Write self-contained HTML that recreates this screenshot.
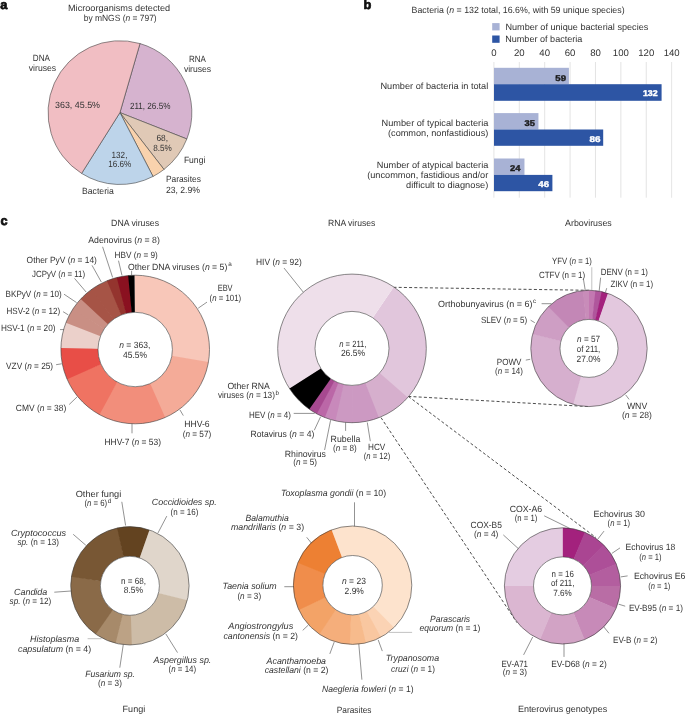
<!DOCTYPE html>
<html><head><meta charset="utf-8"><style>
html,body{margin:0;padding:0;background:#fff;width:685px;height:715px;overflow:hidden}
svg{display:block;will-change:transform}
</style></head><body>
<svg width="685" height="715" viewBox="0 0 685 715">
<rect width="685" height="715" fill="#fff"/>
<g font-family="'Liberation Sans', sans-serif" text-rendering="geometricPrecision" font-size="9" fill="#333333">
<text x="0.20" y="9.10" stroke="#111" stroke-width="0.70" font-size="12.80" font-weight="bold" fill="#111">a</text>
<text x="68.00" y="11.20" textLength="102.20" lengthAdjust="spacingAndGlyphs">Microorganisms detected</text>
<text x="83.70" y="20.60" textLength="73.00" lengthAdjust="spacingAndGlyphs">by mNGS (<tspan font-style="italic">n</tspan> = 797)</text>
<path d="M119.950,112.600 L140.009,43.555 A71.900,71.900 0 0 1 186.844,138.960 Z" fill="#d6b3cf" stroke="#444" stroke-width="0.60" stroke-linejoin="round"/>
<path d="M119.950,112.600 L186.844,138.960 A71.900,71.900 0 0 1 163.996,169.430 Z" fill="#e0c9b6" stroke="#444" stroke-width="0.60" stroke-linejoin="round"/>
<path d="M119.950,112.600 L163.996,169.430 A71.900,71.900 0 0 1 153.026,176.441 Z" fill="#f9d2ad" stroke="#444" stroke-width="0.60" stroke-linejoin="round"/>
<path d="M119.950,112.600 L153.026,176.441 A71.900,71.900 0 0 1 81.599,173.418 Z" fill="#bdd4ea" stroke="#444" stroke-width="0.60" stroke-linejoin="round"/>
<path d="M119.950,112.600 L81.599,173.418 A71.900,71.900 0 0 1 140.009,43.555 Z" fill="#f1bec3" stroke="#444" stroke-width="0.60" stroke-linejoin="round"/>
<text x="32.80" y="61.40" textLength="17.10" lengthAdjust="spacingAndGlyphs">DNA</text>
<text x="28.80" y="71.00" textLength="27.40" lengthAdjust="spacingAndGlyphs">viruses</text>
<text x="188.90" y="61.80" textLength="16.90" lengthAdjust="spacingAndGlyphs">RNA</text>
<text x="183.90" y="71.70" textLength="27.30" lengthAdjust="spacingAndGlyphs">viruses</text>
<text x="55.00" y="108.10" textLength="45.00" lengthAdjust="spacingAndGlyphs">363, 45.5%</text>
<text x="129.90" y="108.80" textLength="40.50" lengthAdjust="spacingAndGlyphs">211, 26.5%</text>
<text x="156.40" y="140.90" textLength="11.60" lengthAdjust="spacingAndGlyphs">68,</text>
<text x="153.20" y="150.50" textLength="18.60" lengthAdjust="spacingAndGlyphs">8.5%</text>
<text x="111.60" y="157.50" textLength="15.80" lengthAdjust="spacingAndGlyphs">132,</text>
<text x="108.30" y="166.90" textLength="23.00" lengthAdjust="spacingAndGlyphs">16.6%</text>
<text x="183.90" y="162.50" textLength="21.40" lengthAdjust="spacingAndGlyphs">Fungi</text>
<text x="165.90" y="181.80" textLength="35.00" lengthAdjust="spacingAndGlyphs">Parasites</text>
<text x="165.90" y="192.60" textLength="34.10" lengthAdjust="spacingAndGlyphs">23, 2.9%</text>
<text x="82.00" y="193.60" textLength="31.80" lengthAdjust="spacingAndGlyphs">Bacteria</text>
<text x="363.60" y="9.00" stroke="#111" stroke-width="0.70" font-size="12.80" font-weight="bold" fill="#111">b</text>
<text x="411.60" y="13.20" textLength="213.00" lengthAdjust="spacingAndGlyphs">Bacteria (<tspan font-style="italic">n</tspan> = 132 total, 16.6%, with 59 unique species)</text>
<rect x="492.2" y="23.1" width="7.4" height="7.3" fill="#a8b2d5"/>
<rect x="492.2" y="35.5" width="7.4" height="7.3" fill="#2d55a4"/>
<text x="505.40" y="29.60" textLength="142.90" lengthAdjust="spacingAndGlyphs">Number of unique bacterial species</text>
<text x="505.20" y="41.70" textLength="77.20" lengthAdjust="spacingAndGlyphs">Number of bacteria</text>
<text x="493.90" y="55.6" font-size="9.6" text-anchor="middle">0</text>
<line x1="493.90" y1="62.00" x2="493.90" y2="197.70" stroke="#d9d9d9" stroke-width="0.70"/>
<text x="519.29" y="55.6" font-size="9.6" text-anchor="middle">20</text>
<line x1="519.29" y1="62.00" x2="519.29" y2="197.70" stroke="#d9d9d9" stroke-width="0.70"/>
<text x="544.68" y="55.6" font-size="9.6" text-anchor="middle">40</text>
<line x1="544.68" y1="62.00" x2="544.68" y2="197.70" stroke="#d9d9d9" stroke-width="0.70"/>
<text x="570.08" y="55.6" font-size="9.6" text-anchor="middle">60</text>
<line x1="570.08" y1="62.00" x2="570.08" y2="197.70" stroke="#d9d9d9" stroke-width="0.70"/>
<text x="595.47" y="55.6" font-size="9.6" text-anchor="middle">80</text>
<line x1="595.47" y1="62.00" x2="595.47" y2="197.70" stroke="#d9d9d9" stroke-width="0.70"/>
<text x="620.86" y="55.6" font-size="9.6" text-anchor="middle">100</text>
<line x1="620.86" y1="62.00" x2="620.86" y2="197.70" stroke="#d9d9d9" stroke-width="0.70"/>
<text x="646.25" y="55.6" font-size="9.6" text-anchor="middle">120</text>
<line x1="646.25" y1="62.00" x2="646.25" y2="197.70" stroke="#d9d9d9" stroke-width="0.70"/>
<text x="671.64" y="55.6" font-size="9.6" text-anchor="middle">140</text>
<line x1="671.64" y1="62.00" x2="671.64" y2="197.70" stroke="#d9d9d9" stroke-width="0.70"/>
<rect x="494.0" y="67.80" width="74.91" height="16.40" fill="#a8b2d5"/>
<rect x="494.0" y="84.20" width="167.59" height="16.60" fill="#2d55a4"/>
<rect x="494.0" y="113.10" width="44.44" height="16.40" fill="#a8b2d5"/>
<rect x="494.0" y="129.50" width="109.19" height="16.30" fill="#2d55a4"/>
<rect x="494.0" y="158.50" width="30.47" height="16.40" fill="#a8b2d5"/>
<rect x="494.0" y="174.90" width="58.40" height="16.30" fill="#2d55a4"/>
<text x="555.30" y="80.50" stroke="#1a1a1a" stroke-width="0.40" font-size="8.40" font-weight="bold" fill="#1a1a1a" textLength="10.70" lengthAdjust="spacingAndGlyphs">59</text>
<text x="642.90" y="96.00" stroke="#fff" stroke-width="0.40" font-size="8.40" font-weight="bold" fill="#fff" textLength="14.70" lengthAdjust="spacingAndGlyphs">132</text>
<text x="524.60" y="125.80" stroke="#1a1a1a" stroke-width="0.40" font-size="8.40" font-weight="bold" fill="#1a1a1a" textLength="10.40" lengthAdjust="spacingAndGlyphs">35</text>
<text x="589.40" y="142.10" stroke="#fff" stroke-width="0.40" font-size="8.40" font-weight="bold" fill="#fff" textLength="11.00" lengthAdjust="spacingAndGlyphs">86</text>
<text x="510.00" y="171.00" stroke="#1a1a1a" stroke-width="0.40" font-size="8.40" font-weight="bold" fill="#1a1a1a" textLength="10.40" lengthAdjust="spacingAndGlyphs">24</text>
<text x="538.30" y="187.10" stroke="#fff" stroke-width="0.40" font-size="8.40" font-weight="bold" fill="#fff" textLength="10.70" lengthAdjust="spacingAndGlyphs">46</text>
<text x="380.40" y="88.80" textLength="107.90" lengthAdjust="spacingAndGlyphs">Number of bacteria in total</text>
<text x="381.50" y="125.60" textLength="106.80" lengthAdjust="spacingAndGlyphs">Number of typical bacteria</text>
<text x="388.00" y="135.80" textLength="100.30" lengthAdjust="spacingAndGlyphs">(common, nonfastidious)</text>
<text x="376.80" y="168.10" textLength="111.50" lengthAdjust="spacingAndGlyphs">Number of atypical bacteria</text>
<text x="367.20" y="177.90" textLength="121.10" lengthAdjust="spacingAndGlyphs">(uncommon, fastidious and/or</text>
<text x="406.00" y="188.10" textLength="82.30" lengthAdjust="spacingAndGlyphs">difficult to diagnose)</text>
<text x="0.60" y="225.00" stroke="#111" stroke-width="0.70" font-size="12.80" font-weight="bold" fill="#111">c</text>
<text x="111.10" y="225.70" textLength="47.90" lengthAdjust="spacingAndGlyphs">DNA viruses</text>
<text x="328.00" y="225.80" textLength="47.30" lengthAdjust="spacingAndGlyphs">RNA viruses</text>
<text x="565.10" y="225.80" textLength="46.70" lengthAdjust="spacingAndGlyphs">Arboviruses</text>
<text x="122.60" y="712.30" textLength="22.60" lengthAdjust="spacingAndGlyphs">Fungi</text>
<text x="336.80" y="712.50" textLength="34.70" lengthAdjust="spacingAndGlyphs">Parasites</text>
<text x="517.90" y="712.40" textLength="89.40" lengthAdjust="spacingAndGlyphs">Enterovirus genotypes</text>
<line x1="393.50" y1="287.30" x2="589.00" y2="290.30" stroke="#1e1e1e" stroke-width="0.80" stroke-dasharray="3 2.2"/>
<line x1="408.30" y1="396.40" x2="589.00" y2="406.60" stroke="#1e1e1e" stroke-width="0.80" stroke-dasharray="3 2.2"/>
<line x1="408.30" y1="396.40" x2="596.00" y2="537.60" stroke="#1e1e1e" stroke-width="0.80" stroke-dasharray="3 2.2"/>
<line x1="381.00" y1="417.60" x2="517.00" y2="622.70" stroke="#1e1e1e" stroke-width="0.80" stroke-dasharray="3 2.2"/>
<path d="M134.552,275.203 A74.300,74.300 0 0 1 208.287,362.868 L171.793,356.193 A37.200,37.200 0 0 0 134.875,312.301 Z" fill="#f8c7b9"/>
<path d="M208.445,361.974 A74.300,74.300 0 0 1 164.358,417.840 L149.798,383.716 A37.200,37.200 0 0 0 171.872,355.746 Z" fill="#f4ab98"/>
<path d="M165.190,417.478 A74.300,74.300 0 0 1 98.662,414.195 L116.907,381.891 A37.200,37.200 0 0 0 150.215,383.535 Z" fill="#f28e7b"/>
<path d="M99.455,414.637 A74.300,74.300 0 0 1 66.735,378.362 L100.921,363.950 A37.200,37.200 0 0 0 117.304,382.112 Z" fill="#ef7362"/>
<path d="M67.092,379.196 A74.300,74.300 0 0 1 60.942,346.991 L98.021,348.244 A37.200,37.200 0 0 0 101.100,364.368 Z" fill="#e84e47"/>
<path d="M60.917,347.898 A74.300,74.300 0 0 1 66.199,321.943 L100.653,335.703 A37.200,37.200 0 0 0 98.009,348.698 Z" fill="#ebd0ca"/>
<path d="M65.868,322.788 A74.300,74.300 0 0 1 73.365,308.306 L104.241,328.875 A37.200,37.200 0 0 0 100.487,336.126 Z" fill="#c98f84"/>
<path d="M72.866,309.065 A74.300,74.300 0 0 1 81.384,298.272 L108.256,323.852 A37.200,37.200 0 0 0 103.991,329.255 Z" fill="#c98f84"/>
<path d="M80.762,298.933 A74.300,74.300 0 0 1 92.051,289.013 L113.597,319.216 A37.200,37.200 0 0 0 107.944,324.183 Z" fill="#a65446"/>
<path d="M91.315,289.545 A74.300,74.300 0 0 1 107.826,280.426 L121.495,314.917 A37.200,37.200 0 0 0 113.228,319.482 Z" fill="#a65446"/>
<path d="M106.985,280.766 A74.300,74.300 0 0 1 117.623,277.309 L126.400,313.356 A37.200,37.200 0 0 0 121.073,315.087 Z" fill="#94342e"/>
<path d="M116.742,277.529 A74.300,74.300 0 0 1 129.036,275.456 L132.114,312.428 A37.200,37.200 0 0 0 125.959,313.466 Z" fill="#8a1120"/>
<path d="M128.132,275.537 A74.300,74.300 0 0 1 134.552,275.203 L134.875,312.301 A37.200,37.200 0 0 0 131.661,312.469 Z" fill="#000000"/>
<circle cx="135.20" cy="349.50" r="74.30" fill="none" stroke="#3a3a3a" stroke-width="0.6"/>
<circle cx="135.20" cy="349.50" r="37.20" fill="#fff" stroke="#3a3a3a" stroke-width="0.6"/>
<path d="M393.763,286.948 A74.300,74.300 0 0 1 407.084,398.262 L379.431,373.230 A37.000,37.000 0 0 0 372.797,317.798 Z" fill="#e1c6dc"/>
<path d="M407.689,397.585 A74.300,74.300 0 0 1 378.081,417.972 L364.988,383.045 A37.000,37.000 0 0 0 379.732,372.893 Z" fill="#d6afcd"/>
<path d="M378.929,417.648 A74.300,74.300 0 0 1 352.099,422.700 L352.049,385.400 A37.000,37.000 0 0 0 365.410,382.884 Z" fill="#cc99c2"/>
<path d="M353.007,422.693 A74.300,74.300 0 0 1 334.563,420.625 L343.317,384.367 A37.000,37.000 0 0 0 352.501,385.397 Z" fill="#cc99c2"/>
<path d="M335.447,420.833 A74.300,74.300 0 0 1 324.042,417.239 L338.077,382.681 A37.000,37.000 0 0 0 343.757,384.470 Z" fill="#c889bb"/>
<path d="M324.885,417.576 A74.300,74.300 0 0 1 316.060,413.429 L334.102,380.783 A37.000,37.000 0 0 0 338.497,382.848 Z" fill="#bb67a7"/>
<path d="M316.857,413.863 A74.300,74.300 0 0 1 308.587,408.698 L330.381,378.427 A37.000,37.000 0 0 0 334.499,381.000 Z" fill="#a74990"/>
<path d="M309.327,409.223 A74.300,74.300 0 0 1 289.036,387.846 L320.645,368.044 A37.000,37.000 0 0 0 330.750,378.689 Z" fill="#000000"/>
<path d="M289.523,388.613 A74.300,74.300 0 0 1 393.763,286.948 L372.797,317.798 A37.000,37.000 0 0 0 320.887,368.425 Z" fill="#eedfea"/>
<circle cx="352.00" cy="348.40" r="74.30" fill="none" stroke="#3a3a3a" stroke-width="0.6"/>
<circle cx="352.00" cy="348.40" r="37.00" fill="#fff" stroke="#3a3a3a" stroke-width="0.6"/>
<path d="M589.000,290.200 A58.200,58.200 0 0 1 596.109,290.636 L592.542,319.617 A29.000,29.000 0 0 0 589.000,319.400 Z" fill="#c378b1"/>
<path d="M595.402,290.553 A58.200,58.200 0 0 1 602.420,291.768 L595.687,320.181 A29.000,29.000 0 0 0 592.190,319.576 Z" fill="#b0569c"/>
<path d="M601.727,291.609 A58.200,58.200 0 0 1 608.569,293.588 L598.751,321.088 A29.000,29.000 0 0 0 595.342,320.102 Z" fill="#a3217d"/>
<path d="M607.898,293.353 A58.200,58.200 0 0 1 572.481,404.206 L580.769,376.207 A29.000,29.000 0 0 0 598.416,320.971 Z" fill="#e3c8de"/>
<path d="M573.164,404.404 A58.200,58.200 0 0 1 532.760,333.425 L560.976,340.938 A29.000,29.000 0 0 0 581.109,376.306 Z" fill="#d6afce"/>
<path d="M532.581,334.113 A58.200,58.200 0 0 1 548.930,306.191 L569.034,327.368 A29.000,29.000 0 0 0 560.887,341.281 Z" fill="#ce9ec4"/>
<path d="M548.417,306.683 A58.200,58.200 0 0 1 583.305,290.479 L586.162,319.539 A29.000,29.000 0 0 0 568.778,327.613 Z" fill="#c387b6"/>
<path d="M582.598,290.553 A58.200,58.200 0 0 1 589.000,290.200 L589.000,319.400 A29.000,29.000 0 0 0 585.810,319.576 Z" fill="#c88cb9"/>
<circle cx="589.00" cy="348.40" r="58.20" fill="none" stroke="#3a3a3a" stroke-width="0.6"/>
<circle cx="589.00" cy="348.40" r="29.00" fill="#fff" stroke="#3a3a3a" stroke-width="0.6"/>
<path d="M149.466,529.927 A59.200,59.200 0 0 1 187.161,600.828 L158.434,593.289 A29.500,29.500 0 0 0 139.650,557.958 Z" fill="#e0d6cb"/>
<path d="M187.340,600.128 A59.200,59.200 0 0 1 131.115,644.988 L130.506,615.294 A29.500,29.500 0 0 0 158.523,592.940 Z" fill="#cdbca7"/>
<path d="M131.838,644.968 A59.200,59.200 0 0 1 114.872,643.061 L122.411,614.334 A29.500,29.500 0 0 0 130.866,615.284 Z" fill="#bca285"/>
<path d="M115.572,643.240 A59.200,59.200 0 0 1 95.202,633.765 L112.609,609.702 A29.500,29.500 0 0 0 122.760,614.423 Z" fill="#a78a6a"/>
<path d="M95.790,634.185 A59.200,59.200 0 0 1 71.497,576.119 L100.797,580.976 A29.500,29.500 0 0 0 112.903,609.911 Z" fill="#8a6a48"/>
<path d="M71.383,576.833 A59.200,59.200 0 0 1 117.830,527.844 L123.885,556.920 A29.500,29.500 0 0 0 100.740,581.332 Z" fill="#785734"/>
<path d="M117.122,527.995 A59.200,59.200 0 0 1 149.466,529.927 L139.650,557.958 A29.500,29.500 0 0 0 123.533,556.995 Z" fill="#634320"/>
<circle cx="129.90" cy="585.80" r="59.20" fill="none" stroke="#3a3a3a" stroke-width="0.6"/>
<circle cx="129.90" cy="585.80" r="29.50" fill="#fff" stroke="#3a3a3a" stroke-width="0.6"/>
<path d="M331.578,529.858 A59.200,59.200 0 0 1 393.409,628.086 L373.074,606.716 A29.700,29.700 0 0 0 342.053,557.436 Z" fill="#fde3cd"/>
<path d="M393.930,627.585 A59.200,59.200 0 0 1 380.325,637.506 L366.509,611.442 A29.700,29.700 0 0 0 373.335,606.464 Z" fill="#fbd3b4"/>
<path d="M380.962,637.164 A59.200,59.200 0 0 1 365.185,643.047 L358.914,614.221 A29.700,29.700 0 0 0 366.829,611.270 Z" fill="#f9c7a0"/>
<path d="M365.891,642.889 A59.200,59.200 0 0 1 349.111,644.297 L350.850,614.848 A29.700,29.700 0 0 0 359.268,614.142 Z" fill="#f7bb8c"/>
<path d="M349.834,644.335 A59.200,59.200 0 0 1 318.913,633.881 L335.700,609.623 A29.700,29.700 0 0 0 351.212,614.868 Z" fill="#f5ae7b"/>
<path d="M319.511,634.289 A59.200,59.200 0 0 1 298.524,609.291 L325.470,597.286 A29.700,29.700 0 0 0 335.999,609.827 Z" fill="#f3a367"/>
<path d="M298.822,609.950 A59.200,59.200 0 0 1 298.083,562.122 L325.250,573.622 A29.700,29.700 0 0 0 325.620,597.617 Z" fill="#f08d4b"/>
<path d="M297.805,562.790 A59.200,59.200 0 0 1 331.578,529.858 L342.053,557.436 A29.700,29.700 0 0 0 325.110,573.957 Z" fill="#ed8033"/>
<circle cx="352.60" cy="585.20" r="59.20" fill="none" stroke="#3a3a3a" stroke-width="0.6"/>
<circle cx="352.60" cy="585.20" r="29.70" fill="#fff" stroke="#3a3a3a" stroke-width="0.6"/>
<path d="M562.500,527.800 A58.100,58.100 0 0 1 585.388,532.498 L573.924,559.245 A29.000,29.000 0 0 0 562.500,556.900 Z" fill="#a3217d"/>
<path d="M584.734,532.223 A58.100,58.100 0 0 1 604.082,545.322 L583.255,565.646 A29.000,29.000 0 0 0 573.598,559.107 Z" fill="#aa4592"/>
<path d="M603.583,544.817 A58.100,58.100 0 0 1 616.445,564.324 L589.426,575.130 A29.000,29.000 0 0 0 583.006,565.394 Z" fill="#ad4f98"/>
<path d="M616.177,563.666 A58.100,58.100 0 0 1 620.596,586.610 L591.498,586.254 A29.000,29.000 0 0 0 589.293,574.802 Z" fill="#b35e9f"/>
<path d="M620.600,585.900 A58.100,58.100 0 0 1 615.902,608.788 L589.155,597.324 A29.000,29.000 0 0 0 591.500,585.900 Z" fill="#b96da5"/>
<path d="M616.177,608.134 A58.100,58.100 0 0 1 584.076,639.845 L573.270,612.826 A29.000,29.000 0 0 0 589.293,596.998 Z" fill="#c78ab8"/>
<path d="M584.734,639.577 A58.100,58.100 0 0 1 539.612,639.302 L551.076,612.555 A29.000,29.000 0 0 0 573.598,612.693 Z" fill="#d2a3c5"/>
<path d="M540.266,639.577 A58.100,58.100 0 0 1 504.404,585.190 L533.502,585.546 A29.000,29.000 0 0 0 551.402,612.693 Z" fill="#dbb6d1"/>
<path d="M504.400,585.900 A58.100,58.100 0 0 1 562.500,527.800 L562.500,556.900 A29.000,29.000 0 0 0 533.500,585.900 Z" fill="#e4cce1"/>
<circle cx="562.50" cy="585.90" r="58.10" fill="none" stroke="#3a3a3a" stroke-width="0.6"/>
<circle cx="562.50" cy="585.90" r="29.00" fill="#fff" stroke="#3a3a3a" stroke-width="0.6"/>
<text x="88.20" y="243.40" textLength="71.70" lengthAdjust="spacingAndGlyphs">Adenovirus (<tspan font-style="italic">n</tspan> = 8)</text>
<text x="114.60" y="257.70" textLength="43.20" lengthAdjust="spacingAndGlyphs">HBV (<tspan font-style="italic">n</tspan> = 9)</text>
<text x="127.90" y="270.00" textLength="99.40" lengthAdjust="spacingAndGlyphs">Other DNA viruses (<tspan font-style="italic">n</tspan> = 5)</text>
<text x="228.30" y="265.90" font-size="6.3">a</text>
<text x="26.60" y="262.70" textLength="70.30" lengthAdjust="spacingAndGlyphs">Other PyV (<tspan font-style="italic">n</tspan> = 14)</text>
<text x="32.00" y="277.20" textLength="53.10" lengthAdjust="spacingAndGlyphs">JCPyV (<tspan font-style="italic">n</tspan> = 11)</text>
<text x="5.60" y="296.50" textLength="56.10" lengthAdjust="spacingAndGlyphs">BKPyV (<tspan font-style="italic">n</tspan> = 10)</text>
<text x="6.50" y="314.30" textLength="53.60" lengthAdjust="spacingAndGlyphs">HSV-2 (<tspan font-style="italic">n</tspan> = 12)</text>
<text x="0.90" y="331.30" textLength="54.60" lengthAdjust="spacingAndGlyphs">HSV-1 (<tspan font-style="italic">n</tspan> = 20)</text>
<text x="6.10" y="368.90" textLength="47.00" lengthAdjust="spacingAndGlyphs">VZV (<tspan font-style="italic">n</tspan> = 25)</text>
<text x="15.80" y="410.90" textLength="50.40" lengthAdjust="spacingAndGlyphs">CMV (<tspan font-style="italic">n</tspan> = 38)</text>
<text x="104.50" y="445.00" textLength="56.50" lengthAdjust="spacingAndGlyphs">HHV-7 (<tspan font-style="italic">n</tspan> = 53)</text>
<text x="184.20" y="427.00" textLength="25.40" lengthAdjust="spacingAndGlyphs">HHV-6</text>
<text x="182.70" y="436.50" textLength="28.50" lengthAdjust="spacingAndGlyphs">(<tspan font-style="italic">n</tspan> = 57)</text>
<text x="217.70" y="290.90" textLength="14.90" lengthAdjust="spacingAndGlyphs">EBV</text>
<text x="209.60" y="300.60" textLength="31.60" lengthAdjust="spacingAndGlyphs">(<tspan font-style="italic">n</tspan> = 101)</text>
<text x="119.20" y="347.80" textLength="31.10" lengthAdjust="spacingAndGlyphs"><tspan font-style="italic">n</tspan> = 363,</text>
<text x="123.00" y="358.10" textLength="24.00" lengthAdjust="spacingAndGlyphs">45.5%</text>
<line x1="102.60" y1="246.80" x2="112.60" y2="277.40" stroke="#4a4a4a" stroke-width="0.60"/>
<line x1="118.50" y1="260.70" x2="122.00" y2="275.50" stroke="#4a4a4a" stroke-width="0.60"/>
<line x1="131.60" y1="270.80" x2="131.60" y2="275.50" stroke="#4a4a4a" stroke-width="0.60"/>
<line x1="92.00" y1="265.30" x2="101.30" y2="282.00" stroke="#4a4a4a" stroke-width="0.60"/>
<line x1="74.50" y1="278.40" x2="86.20" y2="292.10" stroke="#4a4a4a" stroke-width="0.60"/>
<line x1="64.00" y1="294.20" x2="76.60" y2="302.60" stroke="#4a4a4a" stroke-width="0.60"/>
<line x1="63.10" y1="311.70" x2="68.30" y2="314.90" stroke="#4a4a4a" stroke-width="0.60"/>
<line x1="60.00" y1="329.60" x2="64.00" y2="329.60" stroke="#4a4a4a" stroke-width="0.60"/>
<line x1="56.10" y1="364.70" x2="61.70" y2="363.80" stroke="#4a4a4a" stroke-width="0.60"/>
<line x1="69.20" y1="404.50" x2="77.10" y2="396.90" stroke="#4a4a4a" stroke-width="0.60"/>
<line x1="132.00" y1="423.80" x2="132.00" y2="433.30" stroke="#4a4a4a" stroke-width="0.60"/>
<line x1="180.00" y1="410.00" x2="183.30" y2="415.60" stroke="#4a4a4a" stroke-width="0.60"/>
<line x1="207.00" y1="302.10" x2="198.20" y2="308.20" stroke="#4a4a4a" stroke-width="0.60"/>
<text x="256.00" y="265.00" textLength="45.70" lengthAdjust="spacingAndGlyphs">HIV (<tspan font-style="italic">n</tspan> = 92)</text>
<line x1="284.00" y1="268.00" x2="303.30" y2="292.20" stroke="#4a4a4a" stroke-width="0.60"/>
<text x="227.40" y="388.80" textLength="42.30" lengthAdjust="spacingAndGlyphs">Other RNA</text>
<text x="217.90" y="398.30" textLength="57.00" lengthAdjust="spacingAndGlyphs">viruses (<tspan font-style="italic">n</tspan> = 13)</text>
<text x="275.50" y="394.80" font-size="6.3">b</text>
<text x="248.90" y="417.80" textLength="42.00" lengthAdjust="spacingAndGlyphs">HEV (<tspan font-style="italic">n</tspan> = 4)</text>
<line x1="293.70" y1="413.40" x2="314.70" y2="413.40" stroke="#4a4a4a" stroke-width="0.60"/>
<text x="250.50" y="436.80" textLength="63.80" lengthAdjust="spacingAndGlyphs">Rotavirus (<tspan font-style="italic">n</tspan> = 4)</text>
<line x1="314.30" y1="430.20" x2="320.60" y2="416.70" stroke="#4a4a4a" stroke-width="0.60"/>
<text x="284.80" y="456.60" textLength="41.20" lengthAdjust="spacingAndGlyphs">Rhinovirus</text>
<text x="293.30" y="465.30" textLength="23.80" lengthAdjust="spacingAndGlyphs">(<tspan font-style="italic">n</tspan> = 5)</text>
<line x1="324.60" y1="450.00" x2="330.60" y2="420.20" stroke="#4a4a4a" stroke-width="0.60"/>
<text x="330.60" y="441.50" textLength="29.70" lengthAdjust="spacingAndGlyphs">Rubella</text>
<text x="333.00" y="450.60" textLength="23.80" lengthAdjust="spacingAndGlyphs">(<tspan font-style="italic">n</tspan> = 8)</text>
<line x1="345.60" y1="422.50" x2="345.60" y2="430.90" stroke="#4a4a4a" stroke-width="0.60"/>
<text x="368.00" y="449.60" textLength="17.30" lengthAdjust="spacingAndGlyphs">HCV</text>
<text x="363.80" y="459.00" textLength="26.40" lengthAdjust="spacingAndGlyphs">(<tspan font-style="italic">n</tspan> = 12)</text>
<line x1="367.30" y1="422.50" x2="370.30" y2="441.20" stroke="#4a4a4a" stroke-width="0.60"/>
<text x="339.20" y="346.80" textLength="27.30" lengthAdjust="spacingAndGlyphs"><tspan font-style="italic">n</tspan> = 211,</text>
<text x="340.90" y="356.30" textLength="24.10" lengthAdjust="spacingAndGlyphs">26.5%</text>
<text x="552.10" y="263.70" textLength="39.70" lengthAdjust="spacingAndGlyphs">YFV (<tspan font-style="italic">n</tspan> = 1)</text>
<line x1="591.80" y1="267.20" x2="591.80" y2="290.00" stroke="#999" stroke-width="0.60"/>
<text x="538.90" y="278.20" textLength="46.30" lengthAdjust="spacingAndGlyphs">CTFV (n = 1)</text>
<line x1="583.40" y1="278.90" x2="585.20" y2="290.00" stroke="#4a4a4a" stroke-width="0.60"/>
<text x="600.80" y="274.60" textLength="47.20" lengthAdjust="spacingAndGlyphs">DENV (n = 1)</text>
<line x1="600.60" y1="277.70" x2="599.20" y2="290.80" stroke="#4a4a4a" stroke-width="0.60"/>
<text x="610.50" y="287.30" textLength="42.60" lengthAdjust="spacingAndGlyphs">ZIKV (n = 1)</text>
<line x1="606.70" y1="288.20" x2="605.50" y2="292.20" stroke="#4a4a4a" stroke-width="0.60"/>
<text x="438.00" y="306.60" textLength="94.50" lengthAdjust="spacingAndGlyphs">Orthobunyavirus (n = 6)</text>
<text x="532.90" y="303.00" font-size="6.3">c</text>
<line x1="541.60" y1="303.70" x2="551.50" y2="303.70" stroke="#4a4a4a" stroke-width="0.60"/>
<text x="480.90" y="323.30" textLength="46.30" lengthAdjust="spacingAndGlyphs">SLEV (<tspan font-style="italic">n</tspan> = 5)</text>
<line x1="530.60" y1="320.20" x2="534.80" y2="322.70" stroke="#4a4a4a" stroke-width="0.60"/>
<text x="496.80" y="365.00" textLength="24.70" lengthAdjust="spacingAndGlyphs">POWV</text>
<text x="495.10" y="374.30" textLength="27.90" lengthAdjust="spacingAndGlyphs">(<tspan font-style="italic">n</tspan> = 14)</text>
<line x1="525.80" y1="360.10" x2="530.20" y2="359.30" stroke="#4a4a4a" stroke-width="0.60"/>
<text x="626.90" y="409.10" textLength="20.30" lengthAdjust="spacingAndGlyphs">WNV</text>
<text x="622.00" y="417.70" textLength="29.80" lengthAdjust="spacingAndGlyphs">(<tspan font-style="italic">n</tspan> = 28)</text>
<line x1="625.60" y1="394.80" x2="629.10" y2="399.40" stroke="#4a4a4a" stroke-width="0.60"/>
<text x="577.10" y="341.90" textLength="23.00" lengthAdjust="spacingAndGlyphs"><tspan font-style="italic">n</tspan> = 57</text>
<text x="576.80" y="351.70" textLength="23.50" lengthAdjust="spacingAndGlyphs">of 211,</text>
<text x="576.60" y="361.60" textLength="23.90" lengthAdjust="spacingAndGlyphs">27.0%</text>
<text x="75.70" y="496.60" textLength="45.60" lengthAdjust="spacingAndGlyphs">Other fungi</text>
<text x="84.40" y="506.30" textLength="22.80" lengthAdjust="spacingAndGlyphs">(<tspan font-style="italic">n</tspan> = 6)</text>
<text x="107.80" y="502.80" font-size="6.3">d</text>
<line x1="121.80" y1="501.80" x2="125.60" y2="525.50" stroke="#4a4a4a" stroke-width="0.60"/>
<text x="151.80" y="505.20" textLength="64.90" lengthAdjust="spacingAndGlyphs"><tspan font-style="italic">Coccidioides sp.</tspan></text>
<text x="170.60" y="514.70" textLength="27.70" lengthAdjust="spacingAndGlyphs">(n = 16)</text>
<line x1="166.80" y1="516.10" x2="157.90" y2="533.10" stroke="#4a4a4a" stroke-width="0.60"/>
<text x="10.90" y="535.70" textLength="55.30" lengthAdjust="spacingAndGlyphs"><tspan font-style="italic">Cryptococcus</tspan></text>
<text x="17.50" y="545.30" textLength="41.50" lengthAdjust="spacingAndGlyphs"><tspan font-style="italic">sp.</tspan> (n = 13)</text>
<line x1="73.20" y1="534.30" x2="85.80" y2="545.20" stroke="#4a4a4a" stroke-width="0.60"/>
<text x="14.00" y="594.50" textLength="33.30" lengthAdjust="spacingAndGlyphs"><tspan font-style="italic">Candida</tspan></text>
<text x="9.60" y="604.20" textLength="41.60" lengthAdjust="spacingAndGlyphs"><tspan font-style="italic">sp.</tspan> (<tspan font-style="italic">n</tspan> = 12)</text>
<line x1="54.30" y1="592.20" x2="71.00" y2="591.00" stroke="#4a4a4a" stroke-width="0.60"/>
<text x="30.10" y="641.80" textLength="49.10" lengthAdjust="spacingAndGlyphs"><tspan font-style="italic">Histoplasma</tspan></text>
<text x="18.00" y="651.50" textLength="73.10" lengthAdjust="spacingAndGlyphs"><tspan font-style="italic">capsulatum</tspan> (n = 4)</text>
<line x1="87.60" y1="638.70" x2="101.60" y2="638.70" stroke="#999" stroke-width="0.60"/>
<text x="85.20" y="677.10" textLength="49.70" lengthAdjust="spacingAndGlyphs"><tspan font-style="italic">Fusarium sp.</tspan></text>
<text x="98.00" y="686.00" textLength="23.90" lengthAdjust="spacingAndGlyphs">(<tspan font-style="italic">n</tspan> = 3)</text>
<line x1="119.80" y1="667.70" x2="123.30" y2="644.40" stroke="#4a4a4a" stroke-width="0.60"/>
<text x="153.60" y="663.10" textLength="57.70" lengthAdjust="spacingAndGlyphs"><tspan font-style="italic">Aspergillus sp.</tspan></text>
<text x="168.60" y="672.40" textLength="27.50" lengthAdjust="spacingAndGlyphs">(<tspan font-style="italic">n</tspan> = 14)</text>
<line x1="177.50" y1="652.60" x2="165.80" y2="633.90" stroke="#4a4a4a" stroke-width="0.60"/>
<text x="120.90" y="583.60" textLength="25.10" lengthAdjust="spacingAndGlyphs">n = 68,</text>
<text x="123.80" y="593.30" textLength="19.30" lengthAdjust="spacingAndGlyphs">8.5%</text>
<text x="281.00" y="496.30" textLength="105.10" lengthAdjust="spacingAndGlyphs"><tspan font-style="italic">Toxoplasma gondii</tspan> (n = 10)</text>
<line x1="354.50" y1="502.30" x2="354.50" y2="526.30" stroke="#4a4a4a" stroke-width="0.60"/>
<text x="245.50" y="520.70" textLength="43.30" lengthAdjust="spacingAndGlyphs"><tspan font-style="italic">Balamuthia</tspan></text>
<text x="231.00" y="529.90" textLength="73.10" lengthAdjust="spacingAndGlyphs"><tspan font-style="italic">mandrillaris</tspan> (<tspan font-style="italic">n</tspan> = 3)</text>
<line x1="306.70" y1="537.30" x2="311.40" y2="543.10" stroke="#4a4a4a" stroke-width="0.60"/>
<text x="222.60" y="589.00" textLength="54.10" lengthAdjust="spacingAndGlyphs"><tspan font-style="italic">Taenia solium</tspan></text>
<text x="237.40" y="598.50" textLength="23.70" lengthAdjust="spacingAndGlyphs">(<tspan font-style="italic">n</tspan> = 3)</text>
<line x1="284.30" y1="586.70" x2="293.80" y2="586.70" stroke="#4a4a4a" stroke-width="0.60"/>
<text x="228.30" y="629.20" textLength="64.90" lengthAdjust="spacingAndGlyphs"><tspan font-style="italic">Angiostrongylus</tspan></text>
<text x="223.50" y="638.70" textLength="74.40" lengthAdjust="spacingAndGlyphs"><tspan font-style="italic">cantonensis</tspan> (n = 2)</text>
<line x1="302.70" y1="630.40" x2="308.40" y2="625.00" stroke="#4a4a4a" stroke-width="0.60"/>
<text x="266.60" y="664.00" textLength="59.40" lengthAdjust="spacingAndGlyphs"><tspan font-style="italic">Acanthamoeba</tspan></text>
<text x="264.70" y="672.90" textLength="63.80" lengthAdjust="spacingAndGlyphs"><tspan font-style="italic">castellani</tspan> (n = 2)</text>
<line x1="329.80" y1="653.90" x2="334.20" y2="642.10" stroke="#4a4a4a" stroke-width="0.60"/>
<text x="322.00" y="692.00" textLength="91.60" lengthAdjust="spacingAndGlyphs"><tspan font-style="italic">Naegleria fowleri</tspan> (<tspan font-style="italic">n</tspan> = 1)</text>
<line x1="361.90" y1="679.70" x2="358.80" y2="644.00" stroke="#4a4a4a" stroke-width="0.60"/>
<text x="385.80" y="661.30" textLength="53.30" lengthAdjust="spacingAndGlyphs"><tspan font-style="italic">Trypanosoma</tspan></text>
<text x="391.10" y="671.50" textLength="43.80" lengthAdjust="spacingAndGlyphs"><tspan font-style="italic">cruzi</tspan> (<tspan font-style="italic">n</tspan> = 1)</text>
<line x1="382.30" y1="651.10" x2="378.20" y2="639.90" stroke="#4a4a4a" stroke-width="0.60"/>
<text x="430.00" y="621.60" textLength="40.10" lengthAdjust="spacingAndGlyphs"><tspan font-style="italic">Parascaris</tspan></text>
<text x="419.50" y="631.10" textLength="60.90" lengthAdjust="spacingAndGlyphs"><tspan font-style="italic">equorum</tspan> (n = 1)</text>
<line x1="388.80" y1="632.40" x2="412.10" y2="632.40" stroke="#999" stroke-width="0.60"/>
<text x="342.00" y="583.80" textLength="23.90" lengthAdjust="spacingAndGlyphs"><tspan font-style="italic">n</tspan> = 23</text>
<text x="344.60" y="593.50" textLength="19.30" lengthAdjust="spacingAndGlyphs">2.9%</text>
<text x="509.70" y="511.80" textLength="32.50" lengthAdjust="spacingAndGlyphs">COX-A6</text>
<text x="514.80" y="520.50" textLength="22.50" lengthAdjust="spacingAndGlyphs">(n = 1)</text>
<line x1="544.20" y1="515.80" x2="570.40" y2="528.70" stroke="#4a4a4a" stroke-width="0.60"/>
<text x="470.60" y="527.70" textLength="31.30" lengthAdjust="spacingAndGlyphs">COX-B5</text>
<text x="473.90" y="536.90" textLength="24.50" lengthAdjust="spacingAndGlyphs">(<tspan font-style="italic">n</tspan> = 4)</text>
<line x1="503.30" y1="534.90" x2="518.20" y2="548.50" stroke="#4a4a4a" stroke-width="0.60"/>
<text x="593.50" y="516.50" textLength="51.40" lengthAdjust="spacingAndGlyphs">Echovirus 30</text>
<text x="607.60" y="526.30" textLength="22.40" lengthAdjust="spacingAndGlyphs">(<tspan font-style="italic">n</tspan> = 1)</text>
<line x1="604.00" y1="531.10" x2="597.80" y2="539.10" stroke="#4a4a4a" stroke-width="0.60"/>
<text x="625.60" y="549.90" textLength="49.60" lengthAdjust="spacingAndGlyphs">Echovirus 18</text>
<text x="639.30" y="559.90" textLength="22.30" lengthAdjust="spacingAndGlyphs">(<tspan font-style="italic">n</tspan> = 1)</text>
<line x1="620.00" y1="547.90" x2="612.00" y2="553.30" stroke="#4a4a4a" stroke-width="0.60"/>
<text x="633.90" y="579.30" textLength="51.50" lengthAdjust="spacingAndGlyphs">Echovirus E6</text>
<text x="648.20" y="589.00" textLength="22.20" lengthAdjust="spacingAndGlyphs">(<tspan font-style="italic">n</tspan> = 1)</text>
<line x1="627.60" y1="575.90" x2="620.80" y2="576.90" stroke="#4a4a4a" stroke-width="0.60"/>
<text x="628.90" y="610.50" textLength="54.10" lengthAdjust="spacingAndGlyphs">EV-B95 (<tspan font-style="italic">n</tspan> = 1)</text>
<line x1="618.70" y1="604.20" x2="625.20" y2="606.20" stroke="#4a4a4a" stroke-width="0.60"/>
<text x="613.00" y="642.70" textLength="44.40" lengthAdjust="spacingAndGlyphs">EV-B (<tspan font-style="italic">n</tspan> = 2)</text>
<line x1="603.90" y1="627.00" x2="609.00" y2="633.30" stroke="#4a4a4a" stroke-width="0.60"/>
<text x="551.20" y="666.90" textLength="55.50" lengthAdjust="spacingAndGlyphs">EV-D68 (<tspan font-style="italic">n</tspan> = 2)</text>
<line x1="564.00" y1="643.50" x2="564.00" y2="656.90" stroke="#4a4a4a" stroke-width="0.60"/>
<text x="501.40" y="666.90" textLength="26.50" lengthAdjust="spacingAndGlyphs">EV-A71</text>
<text x="502.80" y="675.40" textLength="24.20" lengthAdjust="spacingAndGlyphs">(<tspan font-style="italic">n</tspan> = 3)</text>
<line x1="532.70" y1="637.00" x2="523.60" y2="654.90" stroke="#4a4a4a" stroke-width="0.60"/>
<text x="551.60" y="576.60" textLength="22.20" lengthAdjust="spacingAndGlyphs">n = 16</text>
<text x="550.90" y="586.30" textLength="23.50" lengthAdjust="spacingAndGlyphs">of 211,</text>
<text x="553.20" y="595.80" textLength="18.50" lengthAdjust="spacingAndGlyphs">7.6%</text>
</g>
</svg>
</body></html>
